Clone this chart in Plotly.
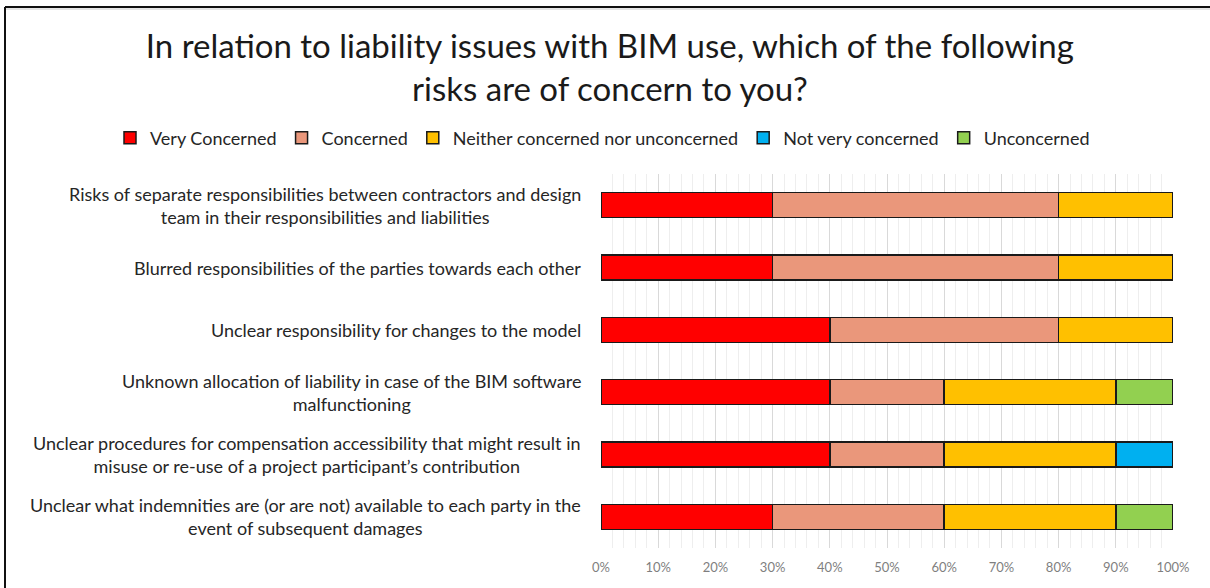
import plotly.graph_objects as go

categories = [
    "Risks of separate responsibilities between contractors and design<br>team in their responsibilities and liabilities",
    "Blurred responsibilities of the parties towards each other",
    "Unclear responsibility for changes to the model",
    "Unknown allocation of liability in case of the BIM software<br>malfunctioning",
    "Unclear procedures for compensation accessibility that might result in<br>misuse or re-use of a project participant’s contribution",
    "Unclear what indemnities are (or are not) available to each party in the<br>event of subsequent damages",
]
series_names = ["Very Concerned", "Concerned", "Neither concerned nor unconcerned",
                "Not very concerned", "Unconcerned"]
very_concerned = [30, 30, 40, 40, 40, 30]
concerned = [50, 50, 40, 20, 20, 30]
neither = [20, 20, 20, 30, 30, 30]
not_very = [None, None, None, None, 10, None]
unconcerned = [None, None, None, 10, None, 10]
tick_values = [0, 10, 20, 30, 40, 50, 60, 70, 80, 90, 100]
tick_labels = ["0%", "10%", "20%", "30%", "40%", "50%", "60%", "70%", "80%", "90%", "100%"]

colors = ["#FF0000", "#EA977B", "#FFC000", "#00B0F0", "#92D050"]
series = [very_concerned, concerned, neither, not_very, unconcerned]

FONT = "Lato"

fig = go.Figure()
for name, vals, col in zip(series_names, series, colors):
    fig.add_trace(go.Bar(
        y=categories, x=vals, name=name, orientation="h",
        marker=dict(color=col, line=dict(color="#1a1a1a", width=1.5)),
    ))

L, R, T, B = 601, 37, 174, 40
W, H = 1210, 588
pw, ph = W - L - R, H - T - B

for cat in categories:
    fig.add_annotation(
        x=0, xref="paper", xshift=-18, y=cat, yref="y",
        text=cat, showarrow=False, xanchor="right", align="center",
        font=dict(family=FONT, size=18, color="#262626"),
    )

def px_x(p):
    return (p - L) / pw

def px_y(p):
    return (H - B - p) / ph

shapes = [
    dict(type="line", xref="paper", yref="paper", x0=px_x(5), x1=px_x(5),
         y0=px_y(7), y1=px_y(600), line=dict(color="#111111", width=2)),
    dict(type="line", xref="paper", yref="paper", x0=px_x(5), x1=px_x(1215),
         y0=px_y(7), y1=px_y(7), line=dict(color="#111111", width=2)),
    dict(type="line", xref="paper", yref="paper", x0=px_x(6), x1=px_x(1215),
         y0=px_y(9), y1=px_y(9), line=dict(color="#cccccc", width=1)),
]

fig.update_layout(
    width=W, height=H,
    margin=dict(l=L, r=R, t=T, b=B, autoexpand=False),
    barmode="stack", bargap=0.6,
    paper_bgcolor="white", plot_bgcolor="white",
    font=dict(family=FONT, color="#262626"),
    title=dict(
        text="In relation to liability issues with BIM use, which of the following<br>risks are of concern to you?",
        x=0.504, xanchor="center", y=1 - 58 / H, yanchor="middle", yref="container",
        font=dict(family=FONT, size=33, color="#1a1a1a"),
    ),
    legend=dict(
        orientation="h", x=px_x(110), xanchor="left", xref="paper",
        y=px_y(138), yanchor="middle", yref="paper",
        font=dict(family=FONT, size=18, color="#262626"),
        traceorder="normal", itemwidth=30,
    ),
    xaxis=dict(
        range=[0, 100], tickvals=tick_values, ticktext=tick_labels,
        showgrid=True, gridcolor="#d9d9d9", gridwidth=1,
        minor=dict(dtick=2, showgrid=True, gridcolor="#eeeeee", gridwidth=1),
        zeroline=False, showline=False,
        tickfont=dict(family=FONT, size=13, color="#7f7f7f"),
        ticks="", ticklabelstandoff=10,
    ),
    yaxis=dict(
        autorange="reversed", showticklabels=False, showgrid=False,
        zeroline=False, showline=False, ticks="",
    ),
    shapes=shapes,
)

fig.write_html("out.html")
